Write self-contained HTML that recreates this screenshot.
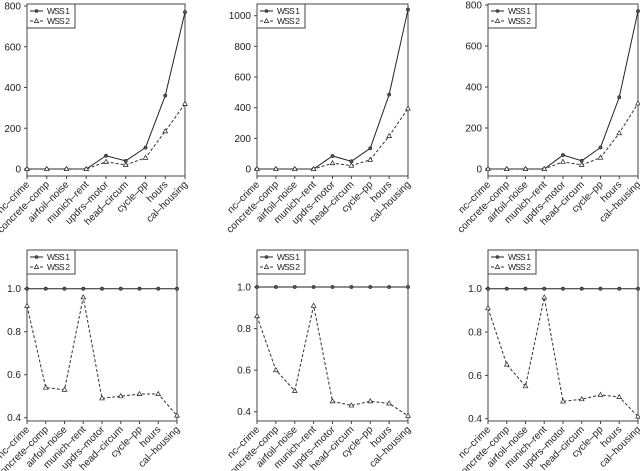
<!DOCTYPE html>
<html><head><meta charset="utf-8"><style>
body{margin:0;background:#fff;width:640px;height:471px;overflow:hidden}
svg{display:block;font-family:"Liberation Sans",sans-serif}
</style></head><body>
<svg id="c" width="640" height="471"></svg>
<script>
const categories=["nc\u2013crime","concrete\u2013comp","airfoil\u2013noise","munich\u2013rent","updrs\u2013motor","head\u2013circum","cycle\u2013pp","hours","cal\u2013housing"];
const top1W1=[0,0,0,0,65,40,105,360,770];
const top1W2=[0,0,0,0,35,20,55,185,320];
const top2W1=[0,0,0,0,85,50,135,485,1040];
const top2W2=[0,0,0,0,38,22,60,215,395];
const top3W1=[0,0,0,0,68,40,105,350,770];
const top3W2=[0,0,0,0,35,20,55,175,320];
const bot1W1=[1,1,1,1,1,1,1,1,1];
const bot1W2=[0.92,0.54,0.53,0.96,0.49,0.50,0.51,0.51,0.41];
const bot2W1=[1,1,1,1,1,1,1,1,1];
const bot2W2=[0.86,0.60,0.50,0.91,0.45,0.43,0.45,0.44,0.38];
const bot3W1=[1,1,1,1,1,1,1,1,1];
const bot3W2=[0.91,0.65,0.55,0.96,0.48,0.49,0.51,0.50,0.41];
const topTicks1=[0,200,400,600,800];
const topTicks2=[0,200,400,600,800,1000];
const botTicks=[0.4,0.6,0.8,1.0];

const NS="http://www.w3.org/2000/svg";
const svg=document.getElementById('c');
function mk(tag,attrs,parent){const e=document.createElementNS(NS,tag);for(const k in attrs)e.setAttribute(k,attrs[k]);(parent||svg).appendChild(e);return e;}

const panels=[
 {x0:27,x1:185,y0:4,y1:176,v0:0,p0:169,v1:800,p1:6,ticks:topTicks1,w1:top1W1,w2:top1W2,fmt:v=>String(v),name:'top-left'},
 {x0:257,x1:408,y0:4,y1:176,v0:0,p0:169,v1:1000,p1:15.7,ticks:topTicks2,w1:top2W1,w2:top2W2,fmt:v=>String(v),name:'top-middle'},
 {x0:488,x1:638,y0:4,y1:176,v0:0,p0:169,v1:800,p1:5,ticks:topTicks1,w1:top3W1,w2:top3W2,fmt:v=>String(v),name:'top-right'},
 {x0:27,x1:177,y0:250,y1:421,v0:0.4,p0:417.7,v1:1.0,p1:288.7,ticks:botTicks,w1:bot1W1,w2:bot1W2,fmt:v=>v.toFixed(1),name:'bottom-left'},
 {x0:257,x1:408,y0:250,y1:421,v0:0.4,p0:411.7,v1:1.0,p1:287,ticks:botTicks,w1:bot2W1,w2:bot2W2,fmt:v=>v.toFixed(1),name:'bottom-middle'},
 {x0:488,x1:638,y0:250,y1:421,v0:0.4,p0:418.7,v1:1.0,p1:288.7,ticks:botTicks,w1:bot3W1,w2:bot3W2,fmt:v=>v.toFixed(1),name:'bottom-right'}
];

panels.forEach(p=>{
  const g=mk('g',{});
  
  
  const X=i=>p.x0+(p.x1-p.x0)*i/(categories.length-1);
  const Y=v=>p.p0+(v-p.v0)*(p.p1-p.p0)/(p.v1-p.v0);
  const frame=mk('rect',{x:p.x0,y:p.y0,width:p.x1-p.x0,height:p.y1-p.y0,fill:'none',stroke:'#444','stroke-width':1},g);
  
  
  p.ticks.forEach(t=>{
    const y=Y(t);
    mk('line',{x1:p.x0-3,x2:p.x0,y1:y,y2:y,stroke:'#444'},g);
    const tx=mk('text',{x:p.x0-6,y:y+3.5,'text-anchor':'end','font-size':10,fill:'#222'},g);
    tx.textContent=p.fmt(t);
    
    
  });
  categories.forEach((c,i)=>{
    const x=X(i);
    mk('line',{x1:x,x2:x,y1:p.y1,y2:p.y1+3,stroke:'#444'},g);
    const tx=mk('text',{x:x+3,y:p.y1+9,'text-anchor':'end','font-size':10,fill:'#222',transform:`rotate(-45 ${x+3} ${p.y1+9})`},g);
    tx.textContent=c;
    
    
  });
  const l1=mk('polyline',{points:p.w1.map((v,i)=>X(i)+','+Y(v)).join(' '),fill:'none',stroke:'#222','stroke-width':1},g);
  
  
  p.w1.forEach((v,i)=>{const m=mk('circle',{cx:X(i),cy:Y(v),r:1.6,fill:'#555',stroke:'#222','stroke-width':0.6},g);
    
    });
  const l2=mk('polyline',{points:p.w2.map((v,i)=>X(i)+','+Y(v)).join(' '),fill:'none',stroke:'#333','stroke-width':1,'stroke-dasharray':'3,2'},g);
  
  
  p.w2.forEach((v,i)=>{const x=X(i),y=Y(v);const m=mk('polygon',{points:`${x},${y-2.5} ${x-2.3},${y+1.6} ${x+2.3},${y+1.6}`,fill:'#fff',stroke:'#222','stroke-width':0.7},g);
    
    });
  const lg=mk('g',{},g);
  
  
  const lx=p.x0, ly=p.y0;
  mk('rect',{x:lx,y:ly,width:48,height:24,fill:'#fff',stroke:'#444'},lg);
  mk('line',{x1:lx+3,x2:lx+16,y1:ly+7,y2:ly+7,stroke:'#222'},lg);
  mk('circle',{cx:lx+9.5,cy:ly+7,r:1.5,fill:'#555',stroke:'#222','stroke-width':0.6},lg);
  const t1=mk('text',{x:lx+20,y:ly+10,'font-size':8.5,fill:'#222',textLength:23},lg);t1.textContent='WSS 1';
  
  
  mk('line',{x1:lx+3,x2:lx+16,y1:ly+17,y2:ly+17,stroke:'#333','stroke-dasharray':'3,2'},lg);
  mk('polygon',{points:`${lx+9.5},${ly+14.6} ${lx+7.3},${ly+18.6} ${lx+11.7},${ly+18.6}`,fill:'#fff',stroke:'#222','stroke-width':0.7},lg);
  const t2=mk('text',{x:lx+20,y:ly+20,'font-size':8.5,fill:'#222',textLength:23},lg);t2.textContent='WSS 2';
  
  
});
</script>
</body></html>
